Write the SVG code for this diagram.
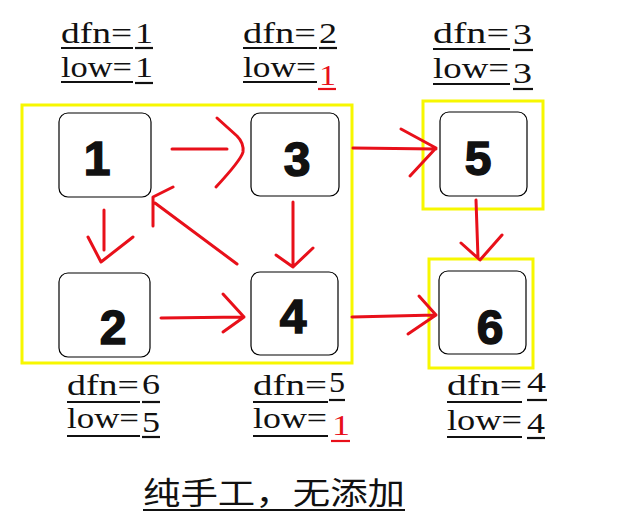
<svg xmlns="http://www.w3.org/2000/svg" width="640" height="529" viewBox="0 0 640 529">
<style>
.yb{fill:none;stroke:#f7f700;stroke-width:3}
.nb{fill:#fff;stroke:#000;stroke-width:1.2}
.dg{font-family:"Liberation Sans",sans-serif;font-weight:bold;font-size:48px;fill:#111;stroke:#111;stroke-width:1.5;text-anchor:middle}
.lb{font-family:"Liberation Serif",serif;font-size:29px;fill:#111}
.ul{stroke:#111;stroke-width:2.2}
.red{fill:#e8101a}
.rul{stroke:#e8101a;stroke-width:2.2}
.ar{fill:none;stroke:#e8101a;stroke-width:3;stroke-linecap:round;stroke-linejoin:round}
.tt{font-family:"Noto Sans CJK SC",sans-serif;font-size:31px;fill:#111}
</style>
<rect width="640" height="529" fill="#fff"/>
<g id="groups">
<rect class="yb" x="22" y="105" width="330" height="258"/>
<rect class="yb" x="423" y="101" width="120" height="108"/>
<rect class="yb" x="429" y="259" width="104" height="109"/>
</g>
<g id="n1"><rect class="nb" x="59" y="113" width="92" height="84" rx="9"/><text class="dg" x="97" y="175">1</text></g>
<g id="n2"><rect class="nb" x="59" y="273" width="91" height="84" rx="9"/><text class="dg" x="113" y="344">2</text></g>
<g id="n3"><rect class="nb" x="251" y="113" width="88" height="83" rx="9"/><text class="dg" x="297" y="176">3</text></g>
<g id="n4"><rect class="nb" x="251" y="272" width="87" height="83" rx="9"/><text class="dg" x="293" y="333">4</text></g>
<g id="n5"><rect class="nb" x="440" y="112" width="87" height="84" rx="9"/><text class="dg" x="478" y="175">5</text></g>
<g id="n6"><rect class="nb" x="439" y="271" width="87" height="83" rx="9"/><text class="dg" x="490" y="344">6</text></g>
<g id="connectors">
<path class="ar" d="M172 149 L227 149 M217 118 L237 136 Q244 143 243 152 Q241 160 216 187"/>
<path class="ar" d="M104 210 L104 250 M88 237 L101 262 L133 237"/>
<path class="ar" d="M237 264 L155 203 M173 187 L153 197 L153 226"/>
<path class="ar" d="M293 202 L293 267 M276 255 L293 267 L313 248"/>
<path class="ar" d="M161 318 L244 317 M223 294 L244 317 L223 332"/>
<path class="ar" d="M353 148 L436 149 M401 129 L436 148 L410 176"/>
<path class="ar" d="M352 317 L436 315 M419 296 L436 315 L408 334"/>
<path class="ar" d="M476 200 L478 258 M461 243 L480 260 L502 235"/>
</g>
<g id="labels">
<text class="lb" x="61" y="43" textLength="71" lengthAdjust="spacingAndGlyphs">dfn=</text><text class="lb" x="135" y="43" textLength="18" lengthAdjust="spacingAndGlyphs">1</text>
<line class="ul" x1="61" y1="48" x2="133" y2="48"/><line class="ul" x1="135" y1="48" x2="153" y2="48"/>
<text class="lb" x="61" y="77" textLength="71" lengthAdjust="spacingAndGlyphs">low=</text><text class="lb" x="135" y="77" textLength="18" lengthAdjust="spacingAndGlyphs">1</text>
<line class="ul" x1="61" y1="82" x2="133" y2="82"/><line class="ul" x1="135" y1="83" x2="153" y2="83"/>

<text class="lb" x="243" y="43" textLength="73" lengthAdjust="spacingAndGlyphs">dfn=</text><text class="lb" x="319" y="43" textLength="18" lengthAdjust="spacingAndGlyphs">2</text>
<line class="ul" x1="243" y1="48" x2="317" y2="48"/><line class="ul" x1="319" y1="48" x2="337" y2="48"/>
<text class="lb" x="243" y="77" textLength="73" lengthAdjust="spacingAndGlyphs">low=</text><text class="lb red" x="319" y="85" textLength="17" lengthAdjust="spacingAndGlyphs">1</text>
<line class="ul" x1="243" y1="82" x2="317" y2="82"/><line class="rul" x1="318" y1="89" x2="336" y2="89"/>

<text class="lb" x="433" y="43" textLength="76" lengthAdjust="spacingAndGlyphs">dfn=</text><text class="lb" x="513" y="44" textLength="19" lengthAdjust="spacingAndGlyphs">3</text>
<line class="ul" x1="433" y1="49" x2="510" y2="49"/><line class="ul" x1="513" y1="50" x2="533" y2="50"/>
<text class="lb" x="433" y="78" textLength="76" lengthAdjust="spacingAndGlyphs">low=</text><text class="lb" x="513" y="83" textLength="19" lengthAdjust="spacingAndGlyphs">3</text>
<line class="ul" x1="433" y1="84" x2="510" y2="84"/><line class="ul" x1="513" y1="89" x2="533" y2="89"/>

<text class="lb" x="67" y="395" textLength="72" lengthAdjust="spacingAndGlyphs">dfn=</text><text class="lb" x="142" y="394" textLength="18" lengthAdjust="spacingAndGlyphs">6</text>
<line class="ul" x1="67" y1="402" x2="140" y2="402"/><line class="ul" x1="142" y1="402" x2="160" y2="402"/>
<text class="lb" x="67" y="428" textLength="72" lengthAdjust="spacingAndGlyphs">low=</text><text class="lb" x="142" y="432" textLength="18" lengthAdjust="spacingAndGlyphs">5</text>
<line class="ul" x1="67" y1="436" x2="140" y2="436"/><line class="ul" x1="142" y1="437" x2="160" y2="437"/>

<text class="lb" x="253" y="395" textLength="74" lengthAdjust="spacingAndGlyphs">dfn=</text><text class="lb" x="329" y="392" textLength="16" lengthAdjust="spacingAndGlyphs">5</text>
<line class="ul" x1="253" y1="402" x2="328" y2="402"/><line class="ul" x1="329" y1="400" x2="345" y2="400"/>
<text class="lb" x="253" y="428" textLength="74" lengthAdjust="spacingAndGlyphs">low=</text><text class="lb red" x="332" y="435" textLength="18" lengthAdjust="spacingAndGlyphs">1</text>
<line class="ul" x1="253" y1="436" x2="328" y2="436"/><line class="rul" x1="331" y1="441" x2="350" y2="441"/>

<text class="lb" x="447" y="395" textLength="75" lengthAdjust="spacingAndGlyphs">dfn=</text><text class="lb" x="527" y="392" textLength="19" lengthAdjust="spacingAndGlyphs">4</text>
<line class="ul" x1="447" y1="402" x2="522" y2="402"/><line class="ul" x1="527" y1="400" x2="547" y2="400"/>
<text class="lb" x="447" y="430" textLength="75" lengthAdjust="spacingAndGlyphs">low=</text><text class="lb" x="527" y="433" textLength="18" lengthAdjust="spacingAndGlyphs">4</text>
<line class="ul" x1="447" y1="437" x2="522" y2="437"/><line class="ul" x1="527" y1="438" x2="545" y2="438"/>
</g>
<g id="title">
<text class="tt" x="143" y="504" textLength="262" lengthAdjust="spacingAndGlyphs">纯手工，无添加</text>
<line class="ul" x1="143" y1="510" x2="405" y2="510"/>
</g>
</svg>
